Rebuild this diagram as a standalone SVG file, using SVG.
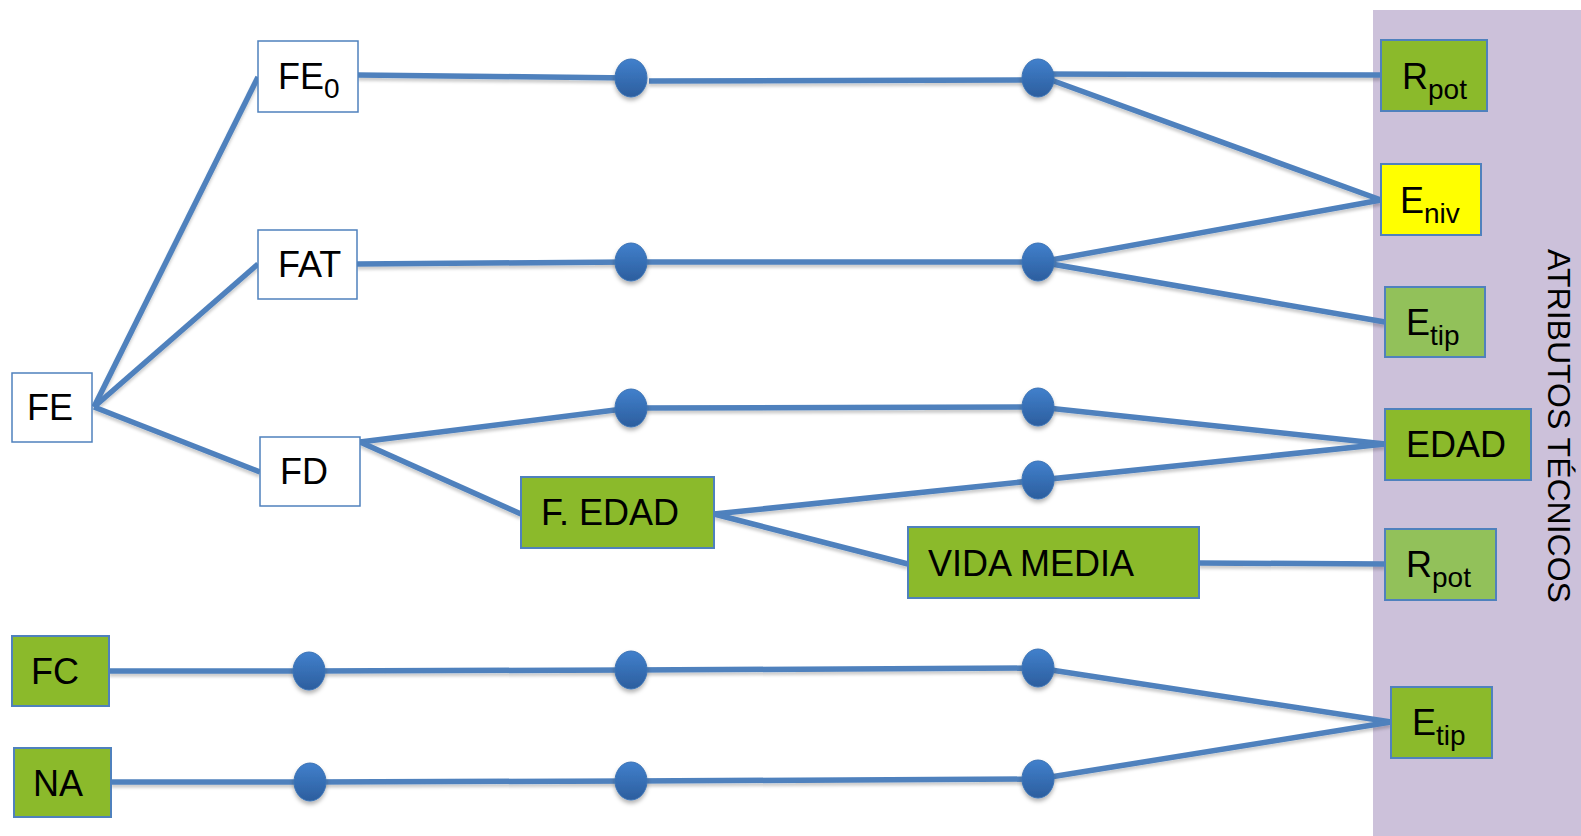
<svg xmlns="http://www.w3.org/2000/svg" width="1581" height="836" viewBox="0 0 1581 836">
<defs>
<linearGradient id="dotg" x1="0" y1="0" x2="0" y2="1">
<stop offset="0" stop-color="#4180CC"/>
<stop offset="1" stop-color="#2C5E9E"/>
</linearGradient>
<filter id="sh" x="-30%" y="-30%" width="160%" height="180%">
<feDropShadow dx="0" dy="3" stdDeviation="2" flood-color="#000" flood-opacity="0.3"/>
</filter>
<filter id="lsh" x="-5%" y="-50%" width="110%" height="200%">
<feDropShadow dx="0" dy="3" stdDeviation="1.5" flood-color="#000" flood-opacity="0.2"/>
</filter>
</defs>
<style>
.ln{fill:none;stroke:#4F81BD;stroke-width:5.5;stroke-linejoin:round}
.dot{fill:url(#dotg);stroke:#3B73B5;stroke-width:1}
.wb{fill:#FFFFFF;stroke:#4F81BD;stroke-width:1.5}
.gb{fill:#8BBA2B;stroke:#4F81BD;stroke-width:2}
.lg{fill:#92C15A;stroke:#4F81BD;stroke-width:2}
.yb{fill:#FFFF00;stroke:#4F81BD;stroke-width:2}
text{font-family:"Liberation Sans",Arial,sans-serif;font-size:36px;fill:#000}
.sub{font-size:28px}
</style>
<rect id="band" x="1373" y="10" width="208" height="826" fill="#CCC1DA"/>
<text id="band-label" transform="translate(1548,426) rotate(90)" text-anchor="middle" style="font-size:32px">ATRIBUTOS TÉCNICOS</text>
<g id="connectors" filter="url(#lsh)">
<polyline class="ln" points="94,407 258,77"/>
<polyline class="ln" points="94,407 258,264"/>
<polyline class="ln" points="94,407 260,472"/>
<polyline class="ln" points="358,75 631,78"/>
<polyline class="ln" points="649,81 1030,80"/>
<polyline class="ln" points="1038,74 1381,75"/>
<polyline class="ln" points="1040,76 1381,200"/>
<polyline class="ln" points="357,264 631,262 1038,262"/>
<polyline class="ln" points="1040,262 1381,200"/>
<polyline class="ln" points="1040,262 1385,322"/>
<polyline class="ln" points="360,442 631,408 1038,407 1385,444"/>
<polyline class="ln" points="360,442 521,514"/>
<polyline class="ln" points="714,514 1385,444"/>
<polyline class="ln" points="714,514 908,564"/>
<polyline class="ln" points="1199,563 1385,564"/>
<polyline class="ln" points="109,671 309,671 631,670 1038,668 1391,722"/>
<polyline class="ln" points="111,782 310,782 631,781 1038,779 1391,722"/>
</g>
<g id="dots" filter="url(#sh)">
<ellipse class="dot" cx="631" cy="78" rx="16" ry="19"/>
<ellipse class="dot" cx="1038" cy="78" rx="16" ry="19"/>
<ellipse class="dot" cx="631" cy="262" rx="16" ry="19"/>
<ellipse class="dot" cx="1038" cy="262" rx="16" ry="19"/>
<ellipse class="dot" cx="631" cy="408" rx="16" ry="19"/>
<ellipse class="dot" cx="1038" cy="407" rx="16" ry="19"/>
<ellipse class="dot" cx="1038" cy="480" rx="16" ry="19"/>
<ellipse class="dot" cx="309" cy="671" rx="16" ry="19"/>
<ellipse class="dot" cx="631" cy="670" rx="16" ry="19"/>
<ellipse class="dot" cx="1038" cy="668" rx="16" ry="19"/>
<ellipse class="dot" cx="310" cy="782" rx="16" ry="19"/>
<ellipse class="dot" cx="631" cy="781" rx="16" ry="19"/>
<ellipse class="dot" cx="1038" cy="779" rx="16" ry="19"/>
</g>
<g id="FE"><rect class="wb" x="12" y="373" width="80" height="69"/><text x="27" y="420">FE</text></g>
<g id="FE0"><rect class="wb" x="258" y="41" width="100" height="71"/><text x="278" y="89">FE<tspan class="sub" dy="9">0</tspan></text></g>
<g id="FAT"><rect class="wb" x="258" y="230" width="99" height="69"/><text x="278" y="277">FAT</text></g>
<g id="FD"><rect class="wb" x="260" y="437" width="100" height="69"/><text x="280" y="484">FD</text></g>
<g id="FEDAD"><rect class="gb" x="521" y="477" width="193" height="71"/><text x="541" y="525">F. EDAD</text></g>
<g id="VIDAMEDIA"><rect class="gb" x="908" y="527" width="291" height="71"/><text x="928" y="576">VIDA MEDIA</text></g>
<g id="FC"><rect class="gb" x="12" y="636" width="97" height="70"/><text x="31" y="684">FC</text></g>
<g id="NA"><rect class="gb" x="14" y="748" width="97" height="69"/><text x="33" y="796">NA</text></g>
<g id="Rpot1"><rect class="gb" x="1381" y="40" width="106" height="71"/><text x="1402" y="89">R<tspan class="sub" dy="10">pot</tspan></text></g>
<g id="Eniv"><rect class="yb" x="1381" y="164" width="100" height="71"/><text x="1400" y="213">E<tspan class="sub" dy="10">niv</tspan></text></g>
<g id="Etip1"><rect class="lg" x="1385" y="287" width="100" height="70"/><text x="1406" y="335">E<tspan class="sub" dy="10">tip</tspan></text></g>
<g id="EDAD"><rect class="gb" x="1385" y="409" width="146" height="71"/><text x="1406" y="457">EDAD</text></g>
<g id="Rpot2"><rect class="lg" x="1385" y="529" width="111" height="71"/><text x="1406" y="577">R<tspan class="sub" dy="10">pot</tspan></text></g>
<g id="Etip2"><rect class="gb" x="1391" y="687" width="101" height="71"/><text x="1412" y="735">E<tspan class="sub" dy="10">tip</tspan></text></g>
</svg>
